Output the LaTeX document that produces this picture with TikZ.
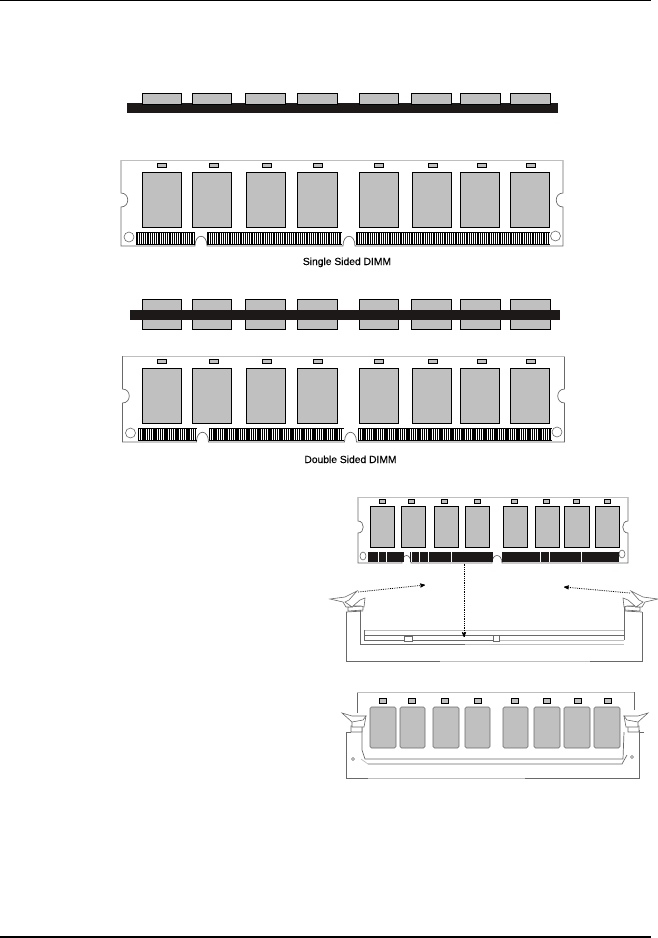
\documentclass[tikz,border=0pt]{standalone}
\usepackage{fontspec}
\setmainfont{Liberation Sans}
\newfontfamily\capfont[FakeBold=0.35]{Liberation Sans}
\usetikzlibrary{arrows}
\definecolor{chip_gray}{RGB}{192,192,192}
\definecolor{edge_gray}{RGB}{105,105,105}
\definecolor{edge_light}{RGB}{190,190,190}
\definecolor{bar_black}{RGB}{30,25,25}

\begin{document}
\begin{tikzpicture}[x=1pt,y=-1pt,>=stealth',line join=miter]
    \tikzstyle{chip}=[draw=black,fill=chip_gray,line width=0.9pt]
    \tikzstyle{softchip}=[draw=edge_gray,fill=chip_gray,line width=0.6pt,rounded corners=1.5pt]
    \tikzstyle{tag}=[draw=black,fill=chip_gray,line width=0.6pt]
    \tikzstyle{bar}=[fill=bar_black,draw=none]
    \tikzstyle{board}=[draw=edge_gray,line width=0.7pt]
    \tikzstyle{boardtop}=[draw=edge_light,line width=0.9pt]
    \tikzstyle{hole}=[draw=edge_gray,line width=0.6pt,fill=white]
    \tikzstyle{pin}=[draw=black,line width=1.25pt]
    \tikzstyle{key}=[draw=edge_gray,fill=white,line width=0.7pt]
    \tikzstyle{rail}=[draw=edge_gray,line width=0.7pt]
    \tikzstyle{railsoft}=[draw=edge_light,line width=0.7pt]
    \tikzstyle{latch}=[draw=edge_gray,line width=0.6pt,fill=white]
    \tikzstyle{move}=[->,densely dotted,line width=0.8pt,draw=black]
    \tikzstyle{caption}=[font=\capfont\fontsize{10.3}{12}\selectfont,text=black,inner sep=0pt,anchor=base]

    \useasboundingbox (0,0) rectangle (658,938);

    % page rules
    \draw[line width=1pt] (0,0.6) -- (651,0.6);
    \draw[line width=2pt] (0,936.7) -- (651,936.7);

    % edge views
    \fill[bar] (127,103) rectangle (558,113);
    \foreach \xa/\xb in {142/182,192/232,245/286,297/338,359/399,411/452,460/501,510/551} {
      \draw[chip] (\xa+0.4,93.4) rectangle (\xb-0.4,104.6);
      \draw[chip] (\xa+0.4,299.4) rectangle (\xb-0.4,329.6);
    }
    \fill[bar] (130,310) rectangle (560,320);

    % front views, the second sits lower and a little to the right
    \foreach \dx/\dy in {0/0,1.5/196} {
      \begin{scope}[yshift=-\dy pt]
        \draw[board] (121+\dx,160) -- (121+\dx,193)
          .. controls (130+\dx,193) and (130+\dx,207) .. (121+\dx,207) -- (121+\dx,246)
          -- (195+\dx,246) .. controls (195+\dx,233) and (207+\dx,233) .. (207+\dx,246)
          -- (343+\dx,246) .. controls (343+\dx,233) and (355+\dx,233) .. (355+\dx,246)
          -- (563+\dx,246) -- (563+\dx,207)
          .. controls (554+\dx,207) and (554+\dx,193) .. (563+\dx,193) -- (563+\dx,160);
        \draw[boardtop] (121+\dx,160) -- (563+\dx,160);
        \foreach \xa/\xb in {142/182,192/232,246/286,297/338,359/399,412/452,460/500,510/550} {
          \draw[chip] (\xa+0.4,172.4) rectangle (\xb-0.4,227.6);
        }
        \foreach \xa in {157,209,262,313,374,428,477,526} {
          \draw[tag] (\xa+0.3,163.3) rectangle (\xa+9.7,167.7);
        }
        \draw[hole] (129+\dx,237) circle (5);
        \draw[hole] (555.5+\dx,236) circle (5);
        \foreach \xa/\xn/\xb in {137/139.2/195,208/210.2/342,357/359.2/550} {
          \foreach \xp in {\xa,\xn,...,\xb} {
            \draw[pin] (\xp+\dx,232) -- (\xp+\dx,245);
          }
          \draw[line width=0.7pt] (\xa+\dx,232.3) -- (\xb+\dx,232.3);
          \draw[line width=0.7pt] (\xa+\dx,244.7) -- (\xb+\dx,244.7);
        }
      \end{scope}
    }
    \node[caption] (single) at (347,265) {Single Sided DIMM};
    \node[caption] (double) at (350.5,463) {Double Sided DIMM};

    % module above the socket
    \draw[board] (358,497) -- (358,521) .. controls (365,521) and (365,533) .. (358,533)
      -- (358,563) -- (402,563) .. controls (402,553) and (411,553) .. (411,563)
      -- (492,563) .. controls (492,553) and (502,553) .. (502,563)
      -- (628,563) -- (628,533) .. controls (621,533) and (621,521) .. (628,521) -- (628,497);
    \draw[boardtop] (358,497) -- (628,497);
    \foreach \xa/\xb in {370/395,401/426,434/459,465/490,503/528,535/560,564/590,595/620} {
      \draw[chip] (\xa+0.3,506.3) rectangle (\xb-0.3,547.7);
    }
    \foreach \xa in {379,408,441,474,511,543,573,604} {
      \draw[tag] (\xa,499) rectangle (\xa+6.5,503);
    }
    \draw[hole] (363,556) ellipse (3 and 4);
    \draw[hole] (622,554) ellipse (3 and 4);
    \fill[bar] (368,552) rectangle (404,562);
    \fill[bar] (410,552) rectangle (493,562);
    \fill[bar] (502,552) rectangle (619,562);
    \foreach \xp in {378,386,411,419,428,451,540,549,581} {
      \draw[white,line width=0.8pt] (\xp,552) -- (\xp,562);
    }

    % open socket
    \draw[rail] (346,612) -- (346,661) -- (440,661);
    \draw[railsoft] (440,661) -- (590,661);
    \draw[rail] (590,661) -- (642,661) -- (642,612);
    \draw[rail] (360,600) -- (360,644) -- (465,644);
    \draw[railsoft] (465,644) -- (624,644);
    \draw[railsoft] (364,630) -- (624,630);
    \draw[rail] (364,630) -- (364,640) -- (493,640);
    \draw[railsoft] (493,640) -- (624,640);
    \draw[rail] (364,635.5) -- (624,635.5);
    \draw[rail] (624,604) -- (624,640);
    \draw[key] (404,636) rectangle (412,641);
    \draw[key] (493,635) rectangle (499.5,641);
    \foreach \sx/\ox in {1/0,-1/988} {
      \begin{scope}[xshift=\ox pt,xscale=\sx]
        \draw[latch] (348,607) -- (348,611) -- (363,610) -- (363,606) -- cycle;
        \draw[latch] (353,606) -- (360,600) -- (365,598) -- (364,607) -- (361,606) -- cycle;
        \draw[latch] (330,599) -- (345,597) -- (357,591) -- (349,600) -- (345,602)
          -- (352,607) -- (346,607) -- (343,602) -- cycle;
        \draw[rail] (346,612) -- (363,611);
      \end{scope}
    }

    % how the module goes in
    \coordinate (latchl) at (358,592);
    \coordinate (latchr) at (630,593);
    \coordinate (openl) at (425,585);
    \coordinate (openr) at (564,587);
    \coordinate (edge) at (464,563.5);
    \coordinate (slot) at (464,637);
    \draw[move] (latchl) -- (openl);
    \draw[move] (latchr) -- (openr);
    \draw[move] (edge) -- (slot);

    % module seated in the socket
    \draw[board] (357,713) -- (357,692);
    \draw[board] (634,692) -- (634,710);
    \draw[boardtop] (357,692) -- (634,692);
    \foreach \xa/\xb in {370/396,400/425,433/459,465/490,503/528,534/560,564/590,594/620} {
      \draw[softchip] (\xa,707) rectangle (\xb,748);
    }
    \foreach \xa in {379,408,441,474,511,543,574,604} {
      \draw[tag] (\xa,698) rectangle (\xa+7,703);
    }
    \draw[rail] (346,732) -- (346,778) -- (368,778);
    \draw[railsoft] (368,778) -- (525,778);
    \draw[rail] (525,778) -- (639,778) -- (639,730);
    \draw[rail] (362,726) -- (362,750) -- (365,759) -- (623,759) -- (624,732);
    \draw[railsoft] (361,759) -- (368,764);
    \draw[rail] (368,764) -- (622,764) -- (627,755);
    \draw[hole] (353,759) circle (1.5);
    \draw[hole] (632,757) circle (1.5);
    \foreach \sx/\ox in {1/0,-1/990} {
      \begin{scope}[xshift=\ox pt,xscale=\sx]
        \draw[latch] (351,726) -- (351,732) -- (362,732) -- (362,725) -- cycle;
        \draw[latch] (352,721) -- (366,716) -- (364,727) -- (352,727) -- cycle;
        \draw[latch] (342,713) -- (352,716) -- (366,716) -- (363,720) -- (352,722) -- cycle;
        \draw[rail] (346,732) -- (351,732);
      \end{scope}
    }
\end{tikzpicture}
\end{document}
